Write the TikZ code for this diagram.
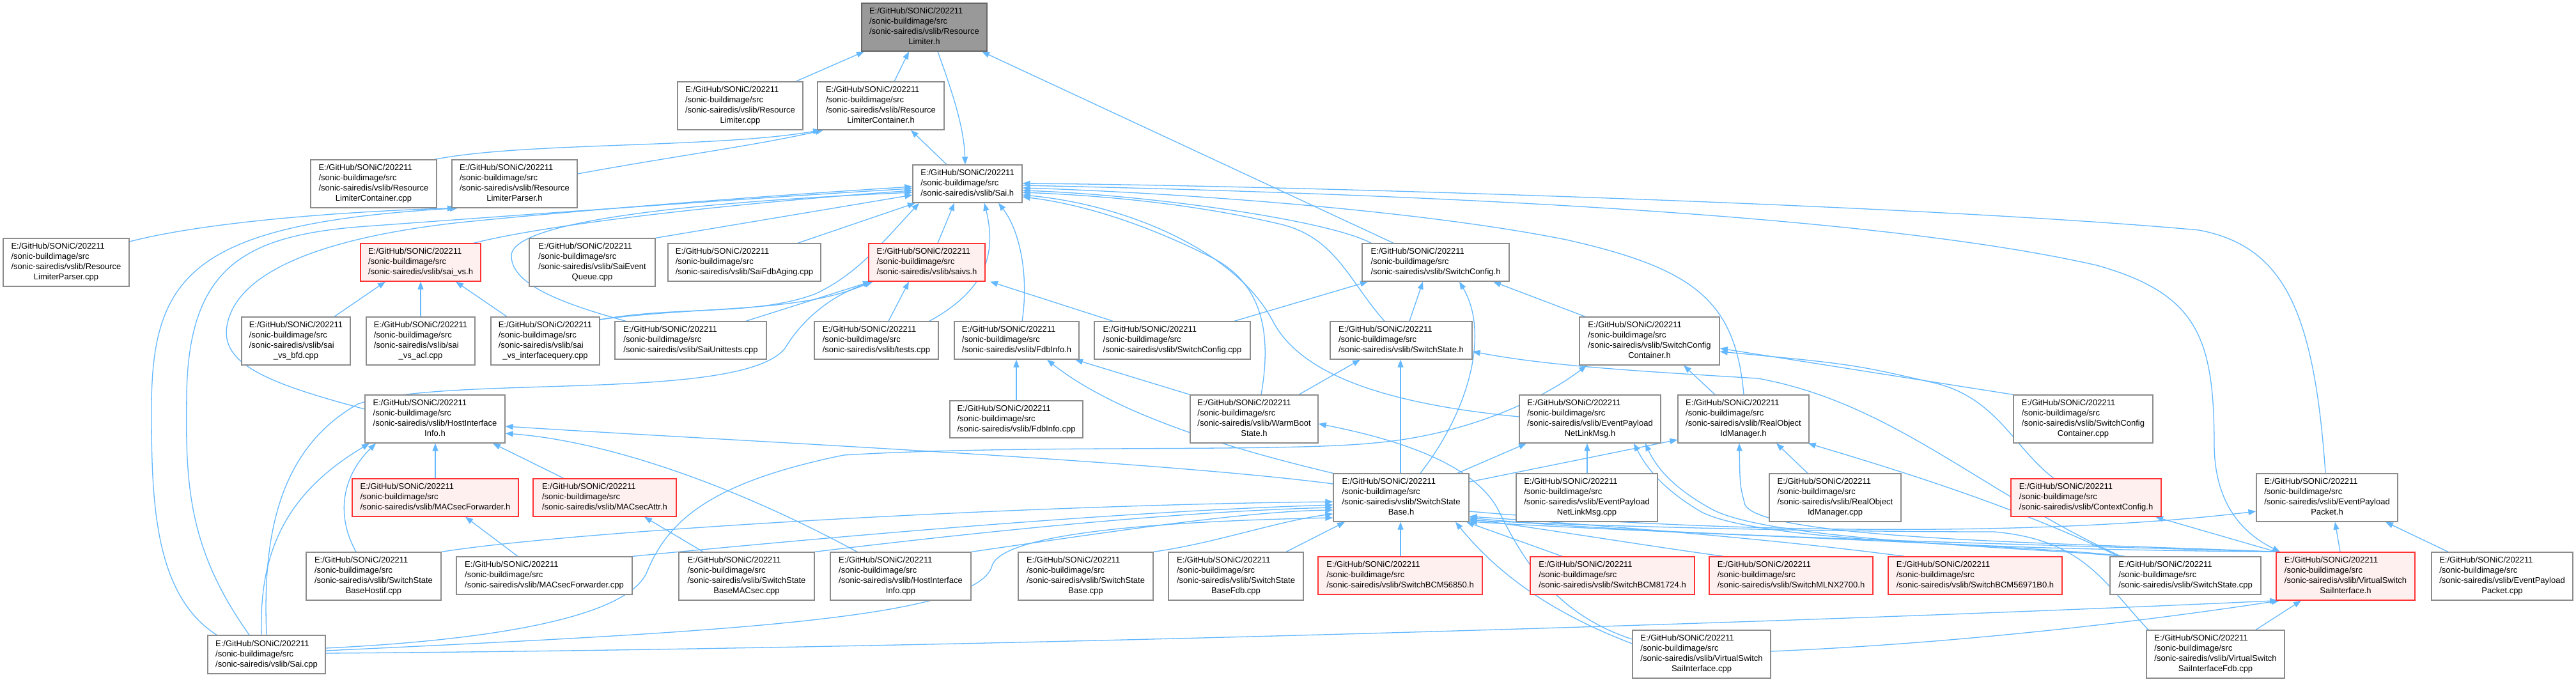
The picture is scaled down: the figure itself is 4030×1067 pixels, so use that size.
\documentclass[tikz,border=0pt]{standalone}
\usepackage{fontspec}
\setmainfont{Liberation Sans}
\usetikzlibrary{arrows.meta}
\definecolor{edgeblue}{HTML}{63B8FF}
\definecolor{nborder}{HTML}{8C8C8C}
\definecolor{mainfill}{HTML}{999999}
\definecolor{mainborder}{HTML}{666666}
\definecolor{redfill}{HTML}{FFF0F0}
\definecolor{redborder}{HTML}{FF3333}
\pgfdeclarelayer{bg}
\pgfsetlayers{bg,main}
\newcommand\FourL[2]{\begin{tabular}{@{}l@{}}E:/GitHub/SONiC/202211\\/sonic-buildimage/src\\/sonic-sairedis/vslib/#1\\\multicolumn{1}{@{}c@{}}{#2}\end{tabular}}
\newcommand\ThreeL[1]{\begin{tabular}{@{}l@{}}E:/GitHub/SONiC/202211\\/sonic-buildimage/src\\/sonic-sairedis/vslib/#1\end{tabular}}
\newcommand\bx[7]{\node[#6, minimum width={(#4-#2)*1pt}, minimum height={(#5-#3)*1pt}] (#1) at ({(#2+#4)/2},{(#3+#5)/2}) {#7};}
\tikzset{
  fbox/.style={draw=nborder, fill=white, line width=1.3pt, inner sep=0pt, font=\fontsize{13}{16}\selectfont},
  gbox/.style={fbox, draw=mainborder, fill=mainfill},
  rbox/.style={fbox, draw=redborder, fill=redfill},
  conn/.style={draw=edgeblue, line width=1.3pt, -{Triangle[length=12pt,width=9pt]}}
}
\begin{document}
\begin{tikzpicture}[x=1pt,y=-1pt]
\useasboundingbox (0,0) rectangle (4030,1067);
% row 1
\bx{rl}{1348}{5}{1544}{80}{gbox}{\FourL{Resource}{Limiter.h}}
% row 2
\bx{rlcpp}{1060}{128}{1256}{203}{fbox}{\FourL{Resource}{Limiter.cpp}}
\bx{rlch}{1279}{128}{1477}{203}{fbox}{\FourL{Resource}{LimiterContainer.h}}
% row 3
\bx{rlccpp}{486}{250}{683}{325}{fbox}{\FourL{Resource}{LimiterContainer.cpp}}
\bx{rlph}{707}{250}{903}{325}{fbox}{\FourL{Resource}{LimiterParser.h}}
\bx{saih}{1428}{258}{1599}{317}{fbox}{\ThreeL{Sai.h}}
% row 4
\bx{rlpcpp}{5}{373}{202}{448}{fbox}{\FourL{Resource}{LimiterParser.cpp}}
\bx{saivsh}{564}{381}{752}{440}{rbox}{\ThreeL{sai\_vs.h}}
\bx{saieq}{828}{373}{1025}{448}{fbox}{\FourL{SaiEvent}{Queue.cpp}}
\bx{saifdb}{1045}{381}{1284}{440}{fbox}{\ThreeL{SaiFdbAging.cpp}}
\bx{saivs}{1359}{381}{1541}{440}{rbox}{\ThreeL{saivs.h}}
\bx{swcfgh}{2131}{381}{2361}{440}{fbox}{\ThreeL{SwitchConfig.h}}
% row 5
\bx{bfd}{378}{496}{548}{571}{fbox}{\FourL{sai}{\_vs\_bfd.cpp}}
\bx{acl}{573}{496}{743}{571}{fbox}{\FourL{sai}{\_vs\_acl.cpp}}
\bx{ifq}{768}{496}{938}{571}{fbox}{\FourL{sai}{\_vs\_interfacequery.cpp}}
\bx{unit}{962}{503}{1199}{562}{fbox}{\ThreeL{SaiUnittests.cpp}}
\bx{tests}{1274}{503}{1468}{562}{fbox}{\ThreeL{tests.cpp}}
\bx{fdbh}{1493}{503}{1688}{562}{fbox}{\ThreeL{FdbInfo.h}}
\bx{swcfgcpp}{1712}{503}{1956}{562}{fbox}{\ThreeL{SwitchConfig.cpp}}
\bx{swsth}{2081}{503}{2303}{562}{fbox}{\ThreeL{SwitchState.h}}
\bx{sccth}{2471}{496}{2690}{571}{fbox}{\FourL{SwitchConfig}{Container.h}}
% row 6
\bx{hiih}{571}{618}{790}{693}{fbox}{\FourL{HostInterface}{Info.h}}
\bx{fdbcpp}{1486}{627}{1694}{685}{fbox}{\ThreeL{FdbInfo.cpp}}
\bx{wbh}{1862}{618}{2062}{693}{fbox}{\FourL{WarmBoot}{State.h}}
\bx{epnlh}{2377}{618}{2598}{693}{fbox}{\FourL{EventPayload}{NetLinkMsg.h}}
\bx{roimh}{2625}{618}{2830}{693}{fbox}{\FourL{RealObject}{IdManager.h}}
\bx{scctcpp}{3150}{618}{3368}{693}{fbox}{\FourL{SwitchConfig}{Container.cpp}}
% row 7
\bx{macfh}{551}{749}{811}{808}{rbox}{\ThreeL{MACsecForwarder.h}}
\bx{macah}{834}{749}{1058}{808}{rbox}{\ThreeL{MACsecAttr.h}}
\bx{ssbh}{2086}{741}{2298}{816}{fbox}{\FourL{SwitchState}{Base.h}}
\bx{epnlcpp}{2372}{741}{2593}{816}{fbox}{\FourL{EventPayload}{NetLinkMsg.cpp}}
\bx{roimcpp}{2768}{741}{2974}{816}{fbox}{\FourL{RealObject}{IdManager.cpp}}
\bx{ctxh}{3146}{749}{3381}{808}{rbox}{\ThreeL{ContextConfig.h}}
\bx{epph}{3530}{741}{3751}{816}{fbox}{\FourL{EventPayload}{Packet.h}}
% row 8
\bx{ssbhostif}{479}{864}{690}{939}{fbox}{\FourL{SwitchState}{BaseHostif.cpp}}
\bx{macfcpp}{714}{871}{989}{930}{fbox}{\ThreeL{MACsecForwarder.cpp}}
\bx{ssbmacsec}{1062}{864}{1274}{939}{fbox}{\FourL{SwitchState}{BaseMACsec.cpp}}
\bx{hiicpp}{1299}{864}{1519}{939}{fbox}{\FourL{HostInterface}{Info.cpp}}
\bx{ssbcpp}{1593}{864}{1804}{939}{fbox}{\FourL{SwitchState}{Base.cpp}}
\bx{ssbfdb}{1828}{864}{2039}{939}{fbox}{\FourL{SwitchState}{BaseFdb.cpp}}
\bx{bcmA}{2062}{871}{2319}{930}{rbox}{\ThreeL{SwitchBCM56850.h}}
\bx{bcmB}{2394}{871}{2651}{930}{rbox}{\ThreeL{SwitchBCM81724.h}}
\bx{mlnx}{2674}{871}{2930}{930}{rbox}{\ThreeL{SwitchMLNX2700.h}}
\bx{bcmC}{2954}{871}{3226}{930}{rbox}{\ThreeL{SwitchBCM56971B0.h}}
\bx{sscpp}{3301}{871}{3537}{930}{fbox}{\ThreeL{SwitchState.cpp}}
\bx{vssih}{3561}{864}{3778}{939}{rbox}{\FourL{VirtualSwitch}{SaiInterface.h}}
\bx{eppcpp}{3804}{864}{4025}{939}{fbox}{\FourL{EventPayload}{Packet.cpp}}
% row 9
\bx{saicpp}{325}{994}{509}{1054}{fbox}{\ThreeL{Sai.cpp}}
\bx{vssicpp}{2554}{986}{2770}{1061}{fbox}{\FourL{VirtualSwitch}{SaiInterface.cpp}}
\bx{vssifdb}{3358}{986}{3574}{1061}{fbox}{\FourL{VirtualSwitch}{SaiInterfaceFdb.cpp}}

\begin{pgfonlayer}{bg}
\fill[white] (0,0) rectangle (4030,1067);
% top
\draw[conn] (rlcpp.north -| 1245,0) -- (rl.south -| 1352,0);
\draw[conn] (rlch.north -| 1399,0) -- (rl.south -| 1422,0);
\draw[conn] (rl.south -| 1467,0) .. controls (1492,150) and (1508,200) .. (saih.north -| 1510,0);
\draw[conn] (swcfgh.north -| 2180,0) -- (rl.south -| 1536,0);
\draw[conn] (saih.north -| 1481,0) -- (rlch.south -| 1425,0);
\draw[conn] (rlccpp.north -| 680,0) .. controls (820,222) and (1120,232) .. (rlch.south -| 1284,0);
\draw[conn] (rlph.east |- 0,272) .. controls (1050,245) and (1180,228) .. (rlch.south -| 1288,0);
\draw[conn] (rlpcpp.east |- 0,378) .. controls (330,345) and (560,330) .. (rlph.south -| 712,0);
\draw[conn] (saicpp.north -| 339,0) .. controls (240,930) and (237,780) .. (237,640) .. controls (237,430) and (300,350) .. (rlph.south -| 716,0);
% Sai.h left
\draw[conn] (saivsh.north -| 741,0) .. controls (860,350) and (1150,318) .. (saih.west |- 0,298);
\draw[conn] (saieq.north east) -- (saih.west |- 0,305);
\draw[conn] (saicpp.north -| 390,0) .. controls (295,860) and (290,760) .. (292,620) .. controls (294,420) and (380,370) .. (560,355) .. controls (900,330) and (1250,305) .. (saih.west |- 0,295);
\draw[conn] (hiih.west |- 0,640) .. controls (420,600) and (345,570) .. (355,510) .. controls (370,420) and (520,370) .. (720,348) .. controls (1000,320) and (1300,300) .. (saih.west |- 0,292);
\draw[conn] (unit.north -| 979,0) .. controls (860,470) and (800,440) .. (800,400) .. controls (800,355) and (1000,320) .. (saih.west |- 0,301);
\draw[conn] (saifdb.north -| 1248,0) -- (saih.south -| 1432,0);
\draw[conn] (ifq.east |- 0,500) .. controls (1060,478) and (1180,495) .. (1275,460) .. controls (1340,430) and (1380,380) .. (saih.south -| 1438,0);
\draw[conn] (saivs.north -| 1467,0) -- (saih.south -| 1493,0);
\draw[conn] (tests.north -| 1454,0) .. controls (1540,455) and (1560,400) .. (saih.south -| 1540,0);
\draw[conn] (fdbh.north -| 1599,0) .. controls (1610,430) and (1595,360) .. (saih.south -| 1562,0);
% Sai.h right
\draw[conn] (wbh.north -| 1973,0) .. controls (1990,520) and (1975,440) .. (1890,400) .. controls (1800,355) and (1700,320) .. (saih.east |- 0,308);
\draw[conn] (epnlh.west |- 0,652) .. controls (2150,630) and (2030,580) .. (1990,500) .. controls (1930,390) and (1760,320) .. (saih.east |- 0,305);
\draw[conn] (swsth.north -| 2166,0) .. controls (2110,440) and (2090,370) .. (2000,350) .. controls (1850,315) and (1700,305) .. (saih.east |- 0,301);
\draw[conn] (swcfgh.north -| 2145,0) .. controls (2080,345) and (1800,305) .. (saih.east |- 0,298);
\draw[conn] (roimh.north -| 2728,0) .. controls (2715,470) and (2650,420) .. (2450,375) .. controls (2200,325) and (1800,300) .. (saih.east |- 0,294);
\draw[conn] (epph.north -| 3638,0) .. controls (3620,480) and (3570,385) .. (3440,360) .. controls (3000,320) and (2000,290) .. (saih.east |- 0,287);
\draw[conn] (saih.east |- 0,290) .. controls (2300,305) and (2950,340) .. (3280,415) .. controls (3440,460) and (3464,530) .. (3464,700) .. controls (3466,800) and (3520,840) .. (vssih.north -| 3567,0);
% saivs.h
\draw[conn] (unit.north -| 1167,0) -- (saivs.south -| 1362,0);
\draw[conn] (ifq.east |- 0,500) .. controls (1100,478) and (1250,490) .. (saivs.south -| 1364,0);
\draw[conn] (saicpp.north -| 417,0) .. controls (410,830) and (440,700) .. (560,632) .. controls (700,585) and (1160,630) .. (1228,545) .. controls (1255,500) and (1300,462) .. (saivs.south -| 1366,0);
\draw[conn] (tests.north -| 1390,0) -- (saivs.south -| 1422,0);
\draw[conn] (swcfgcpp.north -| 1741,0) -- (saivs.south -| 1549,0);
% sai_vs.h
\draw[conn] (bfd.north -| 523,0) -- (saivsh.south -| 603,0);
\draw[conn] (acl.north) -- (saivsh.south);
\draw[conn] (ifq.north -| 793,0) -- (saivsh.south -| 713,0);
% FdbInfo.h
\draw[conn] (fdbcpp.north) -- (fdbh.south -| 1590,0);
\draw[conn] (wbh.north west) -- (fdbh.south -| 1682,0);
\draw[conn] (ssbh.north west) .. controls (1980,715) and (1760,660) .. (fdbh.south -| 1638,0);
% SwitchConfig.h
\draw[conn] (swcfgcpp.north -| 1931,0) -- (swcfgh.south -| 2140,0);
\draw[conn] (swsth.north -| 2205,0) -- (swcfgh.south -| 2226,0);
\draw[conn] (ssbh.north -| 2222,0) .. controls (2300,640) and (2330,520) .. (swcfgh.south -| 2283,0);
\draw[conn] (sccth.north -| 2480,0) -- (swcfgh.south -| 2336,0);
% SwitchState.h
\draw[conn] (wbh.north -| 2032,0) -- (swsth.south -| 2128,0);
\draw[conn] (ssbh.north -| 2191,0) -- (swsth.south -| 2191,0);
\draw[conn] (sscpp.north -| 3318,0) .. controls (3100,770) and (2960,630) .. (2750,592) .. controls (2550,580) and (2420,572) .. (swsth.east |- 0,550);
\draw[conn] (sscpp.north -| 3314,0) .. controls (3150,790) and (2950,730) .. ([xshift=-2pt]roimh.south east);
% SwitchConfigContainer.h
\draw[conn] (saicpp.east |- 0,1014) .. controls (800,1000) and (985,960) .. (1012,895) .. controls (1045,815) and (1110,755) .. (1320,712) .. controls (1600,695) and (2000,708) .. (2150,693) .. controls (2300,680) and (2420,620) .. (sccth.south -| 2482,0);
\draw[conn] (roimh.north -| 2683,0) -- (sccth.south -| 2634,0);
\draw[conn] (ctxh.north -| 3213,0) .. controls (3150,700) and (3125,625) .. (3030,600) .. controls (2900,570) .. (sccth.east |- 0,550);
\draw[conn] (scctcpp.north west) -- (sccth.east |- 0,545);
% EventPayloadNetLinkMsg.h
\draw[conn] (ssbh.north -| 2280,0) -- (epnlh.south -| 2388,0);
\draw[conn] (epnlcpp.north -| 2483,0) -- (epnlh.south -| 2483,0);
\draw[conn] (vssih.north -| 3565,0) .. controls (3200,860) and (2750,850) .. (2660,800) .. controls (2610,770) and (2580,740) .. (epnlh.south -| 2556,0);
\draw[conn] (sscpp.north -| 3322,0) .. controls (3150,855) and (2760,845) .. (2675,795) .. controls (2630,770) and (2595,740) .. (epnlh.south -| 2574,0);
% RealObjectIdManager.h
\draw[conn] (roimcpp.north -| 2828,0) -- (roimh.south -| 2779,0);
\draw[conn] (ssbh.east |- 0,754) -- (roimh.west |- 0,688);
\draw[conn] (vssih.north -| 3563,0) .. controls (3250,850) and (2760,845) .. (2730,790) .. controls (2722,760) .. (roimh.south -| 2721,0);
% ContextConfig.h, EventPayloadPacket.h
\draw[conn] (vssih.north -| 3561,0) -- (ctxh.south -| 3372,0);
\draw[conn] (vssih.north -| 3661,0) -- (epph.south -| 3653,0);
\draw[conn] (eppcpp.north -| 3830,0) -- (epph.south -| 3732,0);
\draw[conn] (ssbh.east |- 0,800) .. controls (2700,835) and (3200,840) .. (epph.west |- 0,800);
% VirtualSwitchSaiInterface.h
\draw[conn] (saicpp.east |- 0,1022) .. controls (1500,1015) and (2800,975) .. (vssih.south -| 3563,0);
\draw[conn] (vssicpp.east |- 0,1019) .. controls (3100,1005) and (3400,965) .. (vssih.south -| 3566,0);
\draw[conn] (vssifdb.north -| 3529,0) -- (vssih.south -| 3600,0);
% SwitchStateBase.h bottom / right
\draw[conn] (ssbfdb.north -| 2012,0) -- (ssbh.south -| 2104,0);
\draw[conn] (bcmA.north -| 2191,0) -- (ssbh.south -| 2191,0);
\draw[conn] (bcmB.north -| 2444,0) -- (ssbh.south -| 2294,0);
\draw[conn] (mlnx.north -| 2696,0) .. controls (2550,850) and (2400,825) .. (ssbh.east |- 0,812);
\draw[conn] (bcmC.north -| 2979,0) .. controls (2750,840) and (2450,818) .. (ssbh.east |- 0,808);
\draw[conn] (vssicpp.west |- 0,1007) .. controls (2430,960) and (2345,900) .. (ssbh.south -| 2277,0);
\draw[conn] (vssicpp.west |- 0,1000) .. controls (2430,960) and (2380,870) .. (2345,800) .. controls (2310,730) and (2200,690) .. (wbh.east |- 0,663);
\draw[conn] (sscpp.north -| 3325,0) .. controls (3150,850) and (2600,835) .. (ssbh.east |- 0,816);
\draw[conn] (vssih.north -| 3562,0) .. controls (3300,855) and (2600,840) .. (ssbh.east |- 0,810);
\draw[conn] (vssifdb.north -| 3361,0) .. controls (3290,910) and (3260,845) .. (3120,832) .. controls (2800,832) and (2480,822) .. (ssbh.east |- 0,814);
% SwitchStateBase.h left
\draw[conn] (ssbhostif.north east) .. controls (900,830) and (1600,790) .. (ssbh.west |- 0,785);
\draw[conn] (macfcpp.north east) .. controls (1300,840) and (1750,800) .. (ssbh.west |- 0,790);
\draw[conn] (ssbmacsec.north east) .. controls (1550,830) and (1850,800) .. (ssbh.west |- 0,794);
\draw[conn] (hiicpp.north east) .. controls (1750,830) and (1950,800) .. (ssbh.west |- 0,798);
\draw[conn] (ssbcpp.north east) .. controls (1900,850) and (2000,815) .. (ssbh.west |- 0,804);
\draw[conn] (saicpp.east |- 0,1018) .. controls (1100,990) and (1530,970) .. (1552,885) .. controls (1570,830) and (1850,815) .. (ssbh.west |- 0,810);
% HostInterfaceInfo.h
\draw[conn] (ssbh.west |- 0,757) .. controls (1800,720) and (1150,690) .. (hiih.east |- 0,667);
\draw[conn] (hiicpp.north -| 1341,0) .. controls (1150,760) and (950,690) .. (hiih.east |- 0,678);
\draw[conn] (macfh.north) -- (hiih.south -| 681,0);
\draw[conn] (macah.north -| 882,0) -- (hiih.south -| 771,0);
\draw[conn] (ssbhostif.north -| 557,0) .. controls (522,800) and (540,740) .. (hiih.south -| 588,0);
\draw[conn] (saicpp.north -| 409,0) .. controls (405,860) and (450,770) .. (hiih.south -| 578,0);
% MACsec
\draw[conn] (macfcpp.north -| 810,0) -- (macfh.south -| 728,0);
\draw[conn] (ssbmacsec.north -| 1100,0) -- (macah.south -| 1008,0);
\end{pgfonlayer}
\end{tikzpicture}
\end{document}
